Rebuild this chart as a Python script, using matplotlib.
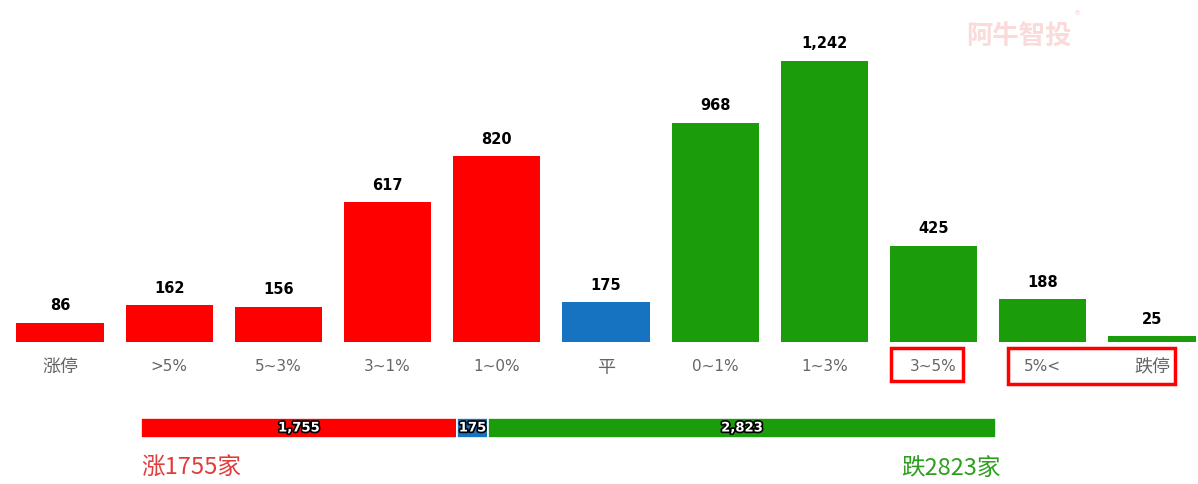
import matplotlib.pyplot as plt
import matplotlib.patheffects as pe
from matplotlib.patches import Rectangle
from matplotlib.transforms import blended_transform_factory

plt.rcParams['font.family'] = ['Noto Sans CJK SC', 'DejaVu Sans']

categories = ['涨停', '>5%', '5~3%', '3~1%', '1~0%', '平', '0~1%', '1~3%', '3~5%', '5%<', '跌停']
counts = [86, 162, 156, 617, 820, 175, 968, 1242, 425, 188, 25]
up_total = 1755
flat_total = 175
down_total = 2823

RED = '#ff0000'
GREEN = '#1a9c0b'
BLUE = '#1573c1'
bar_colors = [RED] * 5 + [BLUE] + [GREEN] * 5

W, H = 1198, 484
fig = plt.figure(figsize=(W / 100, H / 100), dpi=100)

# main histogram
ax = fig.add_axes([5.5 / W, 142 / H, 1201 / W, 316.8 / H])
xs = list(range(len(categories)))
bars = ax.bar(xs, counts, width=0.8, color=bar_colors)
ax.set_xlim(-0.5, 10.5)
ax.set_ylim(0, 1400)
for b, v in zip(bars, counts):
    ax.annotate(f'{v:,}', (b.get_x() + b.get_width() / 2, v), xytext=(0, 7),
                textcoords='offset points', ha='center', va='bottom',
                fontsize=10.5, fontweight='bold', family='DejaVu Sans')
ax.set_xticks(xs)
ax.set_xticklabels(categories, fontsize=11, color='#666666',
                   family=['DejaVu Sans', 'Noto Sans CJK SC'])
for t in ax.get_xticklabels():
    if not t.get_text().isascii():
        t.set_fontsize(13)
ax.tick_params(axis='x', length=0, pad=12)
ax.set_yticks([])
for s in ax.spines.values():
    s.set_visible(False)

# red highlight boxes under labels
tr = blended_transform_factory(ax.transData, ax.transAxes)
ax.add_patch(Rectangle((8 - 0.39, -0.123), 0.66, 0.104, transform=tr, fill=False,
                       edgecolor='red', lw=2.5, clip_on=False))
ax.add_patch(Rectangle((9 - 0.32, -0.133), 1.53, 0.114, transform=tr, fill=False,
                       edgecolor='red', lw=2.5, clip_on=False))

# watermark
fig.text(1072 / W, 1 - 37 / H, '阿牛智投', ha='right', va='center', fontsize=19,
         color='#fbdada', fontweight='bold')
fig.text(1077 / W, 1 - 16 / H, '®', ha='center', va='center', fontsize=8, color='#fbdada')

# summary stacked bar
total = up_total + flat_total + down_total
ax2 = fig.add_axes([141 / W, 46 / H, 855 / W, 20 / H])
left = 0
for val, c in [(up_total, RED), (flat_total, BLUE), (down_total, GREEN)]:
    ax2.barh(0, val, left=left, height=1, color=c, edgecolor='white', linewidth=1.2)
    ax2.text(left + val / 2, 0, f'{val:,}', ha='center', va='center', color='white',
             fontsize=9.5, fontweight='bold', family='DejaVu Sans',
             path_effects=[pe.withStroke(linewidth=2.4, foreground='black')])
    left += val
ax2.set_xlim(0, total)
ax2.set_ylim(-0.5, 0.5)
ax2.axis('off')

fig.text(141 / W, 1 - 468 / H, f'涨{up_total}家', ha='left', va='center',
         fontsize=17, color='#e03c3c')
fig.text(1001 / W, 1 - 468 / H, f'跌{down_total}家', ha='right', va='center',
         fontsize=17, color='#2e9e1e')

fig.savefig('out.png', dpi=100)
